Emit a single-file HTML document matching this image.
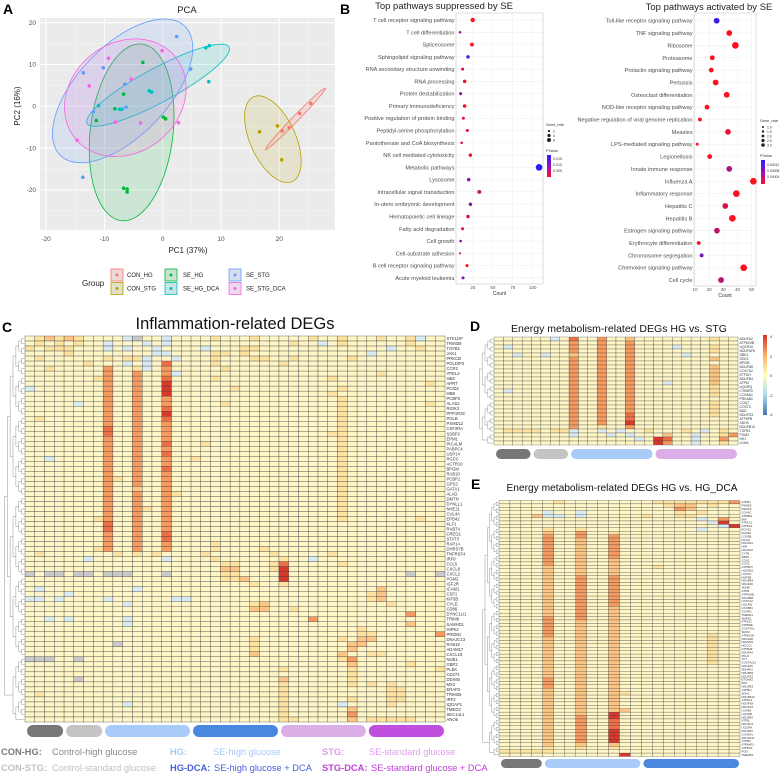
<!DOCTYPE html>
<html><head><meta charset="utf-8">
<style>
html,body{margin:0;padding:0;background:#fff;}
svg{display:block;font-family:"Liberation Sans",Arial,sans-serif;}
</style></head>
<body>
<svg id="fig" width="782" height="775" viewBox="0 0 782 775" xmlns="http://www.w3.org/2000/svg">
  <g>
    <text x="3" y="14" font-size="14" font-weight="bold">A</text>
    <text x="187" y="13" font-size="9.5" text-anchor="middle" fill="#222">PCA</text>
    <rect x="40" y="18" width="295" height="212" fill="#ebebeb"/>
    <g id="pcaGrid"></g>
    <g id="pcaEll"></g>
    <g id="pcaPts"></g>
    <g id="pcaTicks" font-size="6.5" fill="#4d4d4d"></g>
    <text x="188" y="253" font-size="8" text-anchor="middle" fill="#222">PC1 (37%)</text>
    <text x="20" y="106" font-size="8" text-anchor="middle" fill="#222" transform="rotate(-90 20 106)">PC2 (16%)</text>
    <g id="pcaLegend" font-size="6" fill="#222"></g>
  </g>
  <g>
    <text x="340" y="14" font-size="14" font-weight="bold">B</text>
    <text x="444" y="9" font-size="9.5" text-anchor="middle" fill="#222">Top pathways suppressed by SE</text>
    <text x="709" y="10" font-size="9.5" text-anchor="middle" fill="#222">Top pathways activated by SE</text>
    <g id="dotL"></g>
    <g id="dotR"></g>
    <defs>
      <linearGradient id="pg" x1="0" y1="0" x2="0" y2="1">
        <stop offset="0" stop-color="#2b1cff"/><stop offset="0.5" stop-color="#9a10c0"/><stop offset="1" stop-color="#ff1020"/>
      </linearGradient>
      <linearGradient id="hg" x1="0" y1="0" x2="0" y2="1">
        <stop offset="0" stop-color="#d73027"/><stop offset="0.25" stop-color="#fdae61"/><stop offset="0.5" stop-color="#ffffbf"/><stop offset="0.75" stop-color="#abd9e9"/><stop offset="1" stop-color="#4575b4"/>
      </linearGradient>
    </defs>
    <g font-size="3.6" fill="#333">
      <text x="546" y="126" font-size="3.8">Gene_rate</text>
      <circle cx="549" cy="131" r="1.1" fill="#222"/><text x="553" y="132.5">2</text>
      <circle cx="549" cy="135.5" r="1.6" fill="#222"/><text x="553" y="137">4</text>
      <circle cx="549" cy="140" r="2" fill="#222"/><text x="553" y="141.5">6</text>
      <text x="546" y="152" font-size="3.8">PValue</text>
      <rect x="547" y="155" width="4" height="22" fill="url(#pg)"/>
      <text x="553" y="160">0.015</text><text x="553" y="166">0.010</text><text x="553" y="172">0.005</text>
    </g>
    <g font-size="3.4" fill="#333">
      <text x="760" y="122" font-size="3.8">Gene_rate</text>
      <circle cx="763" cy="127" r="1" fill="#222"/><text x="767" y="128.5">1.0</text>
      <circle cx="763" cy="131.5" r="1.2" fill="#222"/><text x="767" y="133">1.5</text>
      <circle cx="763" cy="136" r="1.4" fill="#222"/><text x="767" y="137.5">2.0</text>
      <circle cx="763" cy="140.5" r="1.6" fill="#222"/><text x="767" y="142">2.5</text>
      <circle cx="763" cy="145" r="1.8" fill="#222"/><text x="767" y="146.5">3.0</text>
      <text x="760" y="157" font-size="3.8">PValue</text>
      <rect x="761" y="160" width="4" height="24" fill="url(#pg)"/>
      <text x="767" y="166">0.00012</text><text x="767" y="172">0.00008</text><text x="767" y="178">0.00004</text>
    </g>
  </g>
  <text x="2" y="332" font-size="14" font-weight="bold">C</text>
  <text x="235" y="329" font-size="16.5" text-anchor="middle" fill="#111">Inflammation-related DEGs</text>
  <text x="470" y="331" font-size="14" font-weight="bold">D</text>
  <text x="619" y="332" font-size="10.5" text-anchor="middle" fill="#111">Energy metabolism-related DEGs HG vs. STG</text>
  <text x="471" y="489" font-size="14" font-weight="bold">E</text>
  <text x="622" y="491" font-size="10.2" text-anchor="middle" fill="#111">Energy metabolism-related DEGs HG vs. HG_DCA</text>
  <g id="heatC"></g><g id="heatD"></g><g id="heatE"></g>
  <rect x="763" y="335" width="4" height="80" fill="url(#hg)"/>
  <g font-size="4" fill="#333">
    <text x="770" y="338">4</text><text x="770" y="358">2</text><text x="770" y="377">0</text><text x="769" y="397">-2</text><text x="769" y="416">-4</text>
  </g>
  <g font-size="9.3">
    <text x="1" y="755" fill="#7a7a7a" font-weight="bold">CON-HG:</text>
    <text x="52" y="755" fill="#8a8a8a">Control-high glucose</text>
    <text x="170" y="755" fill="#a9c8f5" font-weight="bold">HG:</text>
    <text x="213" y="755" fill="#a9c8f5">SE-high glucose</text>
    <text x="322" y="755" fill="#dd9ee8" font-weight="bold">STG:</text>
    <text x="369" y="755" fill="#dd9ee8">SE-standard glucose</text>
    <text x="1" y="771" fill="#c0c0c0" font-weight="bold">CON-STG:</text>
    <text x="52" y="771" fill="#c0c0c0">Control-standard glucose</text>
    <text x="170" y="771" fill="#4a5ee0" font-weight="bold">HG-DCA:</text>
    <text x="214" y="771" fill="#4a5ee0">SE-high glucose + DCA</text>
    <text x="322" y="771" fill="#c03fd8" font-weight="bold">STG-DCA:</text>
    <text x="371" y="771" fill="#c03fd8">SE-standard glucose + DCA</text>
  </g>
</svg>
<script>
const pcaGroups = ["CON_HG","CON_STG","SE_HG","SE_HG_DCA","SE_STG","SE_STG_DCA"];
const pcaColors = ["#F8766D","#B79F00","#00BA38","#00BFC4","#619CFF","#F564E3"];
const pc1_CON_HG = [25.4,23.5,21.7,20.5];
const pc2_CON_HG = [0.7,-1.7,-5.1,-5.9];
const pc1_CON_STG = [16.6,19.7,20.4];
const pc2_CON_STG = [-6.1,-4.7,-12.8];
const pc1_SE_HG = [-3.4,-6.7,-8.2,-11.4,0.1,0.5,-6.7,-6.1,-6.1];
const pc2_SE_HG = [10.5,2.9,-0.6,-3.4,-2.6,-3.0,-19.6,-19.8,-20.5];
const pc1_SE_HG_DCA = [7.4,8.0,7.9,-2.3,-1.9,-11.0,-7.4,-7.0];
const pc2_SE_HG_DCA = [14.0,14.5,5.9,3.7,3.4,0.2,-0.7,-0.7];
const pc1_SE_STG = [2.4,-10.2,-13.6,4.8,-6.5,-6.3,-11.9,-13.7];
const pc2_SE_STG = [16.7,9.2,8.0,8.9,5.3,-0.2,-1.3,-17.0];
const pc1_SE_STG_DCA = [-0.1,-9.3,-12.6,-5.4,-8.1,-3.8,2.7,-14.7];
const pc2_SE_STG_DCA = [13.3,11.5,4.9,6.5,-3.8,-4.0,-3.9,-8.1];
const pcaXTicks = [-20,-10,0,10,20];
const pcaYTicks = [20,10,0,-10,-20];

const supPathways = ["T cell receptor signaling pathway","T cell differentiation","Spliceosome","Sphingolipid signaling pathway","RNA secondary structure unwinding","RNA processing","Protein destabilization","Primary immunodeficiency","Positive regulation of protein binding","Peptidyl-serine phosphorylation","Pantothenate and CoA biosynthesis","NK cell mediated cytotoxicity","Metabolic pathways","Lysosome","Intracellular signal transduction","In-utero embryonic development","Hematopoietic cell lineage","Fatty acid degradation","Cell growth","Cell-substrate adhesion","B cell receptor signaling pathway","Acute myeloid leukemia"];
const supCount = [24.7,8.8,23.8,18.8,12.1,14.6,9.6,14.6,13,18,10.9,21.8,108,19.7,33,21.8,18.8,12,9.6,8.8,17.6,12.6];
const supRate = [4,2,3.5,3,2.5,3,2.5,3,2.5,2.5,2,3,6.5,3,3.5,3,3,2.5,2,1.5,2.5,2.5];
const supP = [0.004,0.010,0.004,0.014,0.006,0.005,0.011,0.005,0.005,0.006,0.006,0.005,0.016,0.011,0.007,0.011,0.006,0.006,0.012,0.007,0.005,0.012];
const supTicks = [25,50,75,100];
const actPathways = ["Toll-like receptor signaling pathway","TNF signaling pathway","Ribosome","Proteasome","Prolactin signaling pathway","Pertussis","Osteoclast differentiation","NOD-like receptor signaling pathway","Negative regulation of viral genome replication","Measles","LPS-mediated signaling pathway","Legionellosis","Innate immune response","Influenza A","Inflammatory response","Hepatitis C","Hepatitis B","Estrogen signaling pathway","Erythrocyte differentiation","Chromosome segregation","Chemokine signaling pathway","Cell cycle"];
const actCount = [25.3,34.2,38.5,22.2,21.5,24.6,32.4,18.5,13.5,33.3,11.6,20.4,34.2,51.2,39.2,31.4,36.4,25.5,12.6,14.7,44.4,28.4];
const actRate = [2.5,2.5,3,2,2,2.5,2.5,2,1.5,2.5,1,2,2.5,3,3,2.5,3,2.5,1.5,1.5,3,2.5];
const actP = [0.00013,0.00002,0.00002,0.00002,0.00002,0.00002,0.00002,0.00002,0.00002,0.00003,0.00002,0.00002,0.00007,0.00002,0.00002,0.00004,0.00002,0.00006,0.00002,0.0001,0.00002,0.00006];
const actTicks = [10,20,30,40,50];

const heatColors = {"b":"#d9ebf2","c":"#eef5e2","0":"#fef6c6","1":"#fee3a0","2":"#fdc584","3":"#f79a60","4":"#ee6f45","5":"#d8372b","g":"#c9c9c9"};
const groupFill = {"CON-HG":"#777777","CON-STG":"#c4c4c4","HG":"#a9cbfa","HG-DCA":"#4a88e0","STG":"#dcaee8","STG-DCA":"#c04fe0"};
const cGroups = ["CON-HG","CON-STG","HG","HG-DCA","STG","STG-DCA"];
const cGroupSizes = [4,4,9,9,9,8];
const cGenes = ["STK11IP","TRIM38","TGFB1","JAK1","PRKCB","POLDIP2","CCR2","YPEL3","HBZ","APRT","PCID2","HBB","PCBP2","ALAS2","RIOK3","PPP1R3C","POLB","PSMD12","CSF2RA","SSBP2","EPM1","PICALM","PABPC4","USP14","RGCC","ACTR10","BPGM","RAB10","PCBP1","GPS2","GATA1","ALAD","DMTN","DYNLL1","NHEJ1","CUL4A","EPB42","KLF1","RAB7A","CREG1","STAT3","RAP1A","DHRS7B","TNFRSF4","IRF8","CCL5","CXCL8","CXCL2","PGM2","IGF2R","ICAM1","CSF1","KIF5B","CYLD","CD86","DYNC1LI1","TRIM8","SAMHD1","HIPK2","PRDM1","DNAJC13","RAB18","ADAM17","CXCL16","NUB1","GBP2","PLEK","CD274","DDX60","MX2","ERAP2","TRIM25","IRF2","IQGAP1","TMED3","SEC14L1","ANO6"];
const cRows = [
"0121 2100 00bg00b00 001000100 000100100 01001b00",
"0101 0100 b000b0b00 000000000 0100b0100 00001000",
"1011 1000 b0b00b000 0b0001100 000000000 00b00100",
"0000 1000 00000bb00 001101000 000000000 b0000000",
"0100 0000 1011b00b0 001000110 010000010 00000000",
"0000 0010 00b0b0400 001000000 100000000 00000000",
"0010 0000 3001b0300 000100000 000000000 00000000",
"0000 0000 3003003b0 000000000 000000000 01000000",
"0000 0001 300300400 001000000 000001000 00000000",
"0000 0000 300300500 000000000 000000000 00000010",
"b000 0000 300300500 000010000 000000100 00000000",
"0000 0000 300300500 000000000 000001000 00000000",
"0000 0000 300300300 000000000 000000100 00000000",
"0000 0b00 300300300 000100000 000000100 00000010",
"0000 0000 300300400 000000000 000000100 00000000",
"0000 0000 300300500 000000000 000000100 00000000",
"0100 0000 300300400 000000000 000000100 00000000",
"0000 0000 300300300 000000000 000000100 00000000",
"0000 0000 400300300 000000000 000000100 00000000",
"0000 0000 400300300 000000000 000001100 00000000",
"0000 0000 300300300 000000000 000000100 00000000",
"0000 0000 300300400 010000000 000000100 00000000",
"0000 0000 300300300 000000000 000000100 00000000",
"0000 0000 300300400 000000000 000000100 00000000",
"00b0 0000 300300300 100000000 000000100 00000000",
"0000 0000 300300300 000000000 000000100 00000000",
"0000 0000 300300400 000000000 000000100 00000000",
"0000 0000 300300300 000000000 000000100 00000000",
"0000 0000 310300300 000000000 000000100 00000000",
"0000 0000 300300300 000000000 000000100 00000000",
"0000 0000 300200300 000000000 000000100 00000000",
"0000 0000 300300310 000000000 000000100 00000000",
"0000 0000 300300300 000000000 000000100 00000000",
"0000 0000 300300300 000000000 000000100 00000000",
"0000 0000 300310300 000000000 000000100 00000000",
"0000 0000 300300300 000000000 000000100 00000000",
"0000 0001 300300300 000000000 000000100 00000100",
"0000 0000 400300300 000000000 000000000 00000000",
"0000 0000 400300300 000000000 000000000 00000000",
"0000 0000 300300400 000000000 000000000 00000000",
"0000 0000 300300400 000000000 000000000 00000000",
"0000 0000 300300300 001000000 000000000 00000000",
"0000 0001 300300300 001000010 000000000 00000000",
"0100 0000 010101000 010000001 000001000 00000000",
"0000 00b0 000000b00 001000000 100b00000 00000000",
"0000 0000 000000000 000110001 400000100 00000000",
"0000 0000 000000000 000220001 500000000 00000000",
"g0gg 0gg0 ggg000g00 000110000 500000000 0000g00g",
"0000 0000 000000000 000112000 500000000 00000000",
"0000 0000 000000000 000000100 100000000 00000000",
"0b00 0000 000b00000 000000000 000000000 02000000",
"0000 b000 000000000 000000000 000000000 12000000",
"bb0b 0000 b000000bb 000000000 000000000 12000000",
"0000 0000 00b000000 000000120 000000000 00100000",
"0000 0000 000000000 000000220 010000000 00000000",
"0000 0000 000000000 000000000 000000000 00003000",
"00b0 b000 00b000000 000000000 000300000 00000000",
"0000 0000 00b000000 000000000 000000000 00002000",
"0000 0000 000000000 000000000 000000001 00000000",
"0000 0000 000000000 000000000 000000001 10000003",
"0000 0000 000000000 000000100 000000102 20000000",
"0000 0000 0g0000000 000000100 000000022 00000000",
"0000 0000 000000000 000000100 000000020 00000000",
"0000 0000 000000000 000000200 000000200 11000000",
"ggg0 0g00 000000000 000000000 000000130 00000000",
"0000 0000 000000000 000000000 000000020 00001000",
"0000 0000 000000000 000000000 100000010 00000001",
"0000 0000 000000000 000000000 000000010 00000000",
"0000 0g00 000000000 000000000 200000010 00000000",
"0000 0000 000000000 000000000 100000010 10100000",
"0000 0000 000000000 000000000 100000000 00110000",
"0100 0000 000000000 000000000 100000000 00110000",
"0000 0000 000000000 000000000 100000010 00110000",
"0000 0000 00b000000 000000000 100000b00 00100000",
"0000 0000 000000000 000000000 100000020 00000000",
"0000 0000 000000000 000000000 100000030 00000000",
"0000 0000 000000000 000000000 110000020 11111000"
];
const dGroups = ["CON-HG","CON-STG","HG","STG"];
const dGroupSizes = [4,4,9,9];
const dGenes = ["NDUFA2","ATP6V0B","UQCR10","NDUFAF6","GBE1","SOD1","BPGM","NDUFA8","COX7A2","ETFDH","NDUFB4","ATP5I","UQCRQ","CYB5R3","COX6A1","PRKAB1","COQ7","COX7C","BAD","NDUFS3","ATP6PB","SDHC","NDUFB10","TGFB1","PGM2","HK1","LDHA"];
const dRows = [
"0000 00b0 400300200 000000100",
"0000 0000 300300300 000000000",
"0b00 0000 300300300 00b000100",
"0000 0000 300300300 000000100",
"00b0 0b00 200300300 000b00000",
"0000 0000 300300300 000000200",
"0000 0000 300300300 000000000",
"0000 0000 300300300 000000200",
"0000 0000 300300300 000000200",
"0000 0000 300300300 000000200",
"0000 0000 300300300 000000200",
"0000 0000 300300300 0b0000200",
"0000 0000 300300300 000000100",
"0b00 0000 300300300 000000100",
"0000 0000 300300300 000000100",
"0000 0000 300300300 000000000",
"0000 0000 300300300 000000100",
"0000 0000 300300300 000000100",
"0000 0000 300300300 000000100",
"0000 0000 300300400 000000100",
"0000 0000 300300400 000000000",
"0000 0000 300300500 000000000",
"0000 0000 300100300 000000000",
"0111 1011 b00b0b001 00010b010",
"0000 0000 b000b0b00 0200b0013",
"0000 0000 0000000b0 5400b0030",
"0000 0000 000000000 5300b0010"
];
const eGroups = ["CON-HG","HG","HG-DCA"];
const eGroupSizes = [4,9,9];
const eGenes = ["ATP5H","PSMD2","PSMA5","COX6C","ATP5B2","MIF","ATP1A1","ATP5G2","ECHS1","DHX30","COX5B","DGSH","NDUFA3","ND4","NDUFA2","CYTB","MBP1","COX2","COX3","ATP5PO","UQCR10","COX7C","KMT5B","NDUFB4","NDUFA6","SDHB","ATP5I","ATP6V0B","NDUFB8","COX7A2","UQCRQ","COX6B1","COX4I1","TMEM11","SMPD1","ATP5J2","ATP5ME","COX7A2L","SMOX","ATP6V1D","NDUFA8","NDUFS5","MCCC1","ATP5MF","NDUFA4","PKLR","TKT","COX7A2L2","NDUFA5","SDHAF2","NDUFB9","NDUFS2","ETOM32","BAX","NDUFB3","ATP5F1","SDHC","NDUFB10","ATP5C1","NDUFS8","NDUFV2","COX8A","UQCRB","NDUFB2","ATP5L","NDUFC2","UQCRH","NDUFB7","COX6A1","NDUFA11","ATP5D","ATP6AP1","ATP5G3","PGD","TMEM52"];
const eRows = [
"0000 010000000 011111113",
"0000 000000000 001220100",
"0000 000000000 000320000",
"0000 b00b00000 000101000",
"0002 bb0b00000 100110000",
"0000 000000000 00000b030",
"0000 000000000 000000b50",
"0000 000000000 0000000b5",
"0000 100100000 00000b000",
"0000 200300100 000000000",
"0000 300300300 000000000",
"0000 300200300 000000000",
"0000 300200300 000000000",
"0000 300200300 000000000",
"0000 300200300 000000000",
"0000 300200300 000000000",
"0000 300200300 000000000",
"0000 300200200 000000000",
"0000 300200200 000000000",
"0000 200200200 010000000",
"0000 200200200 000000000",
"0000 200200200 000000000",
"0000 200300300 000000000",
"0000 200300300 000000000",
"0000 200300300 000000000",
"0000 200300300 000000000",
"0000 200300300 000000000",
"0000 200300300 000000000",
"0000 200300300 000000000",
"0000 200300300 000000000",
"0000 200300300 000000000",
"0000 200300200 000000000",
"0000 200300200 000000000",
"0000 200300200 000000000",
"0000 300300200 000000000",
"0000 300200200 000000000",
"0000 300200200 000000000",
"0000 300200200 000000000",
"0000 300200200 000000000",
"0000 300200200 000000100",
"0000 200200200 000000100",
"0000 200200200 000000100",
"0000 200200200 000000100",
"0000 200200200 000000100",
"0000 200200200 000000100",
"0000 200200200 000000100",
"0000 200200200 000000100",
"0000 200200200 000000100",
"0000 200200200 000000000",
"0000 200200200 000000000",
"0000 200200200 000000000",
"0000 200200200 000000000",
"0000 300200200 000000000",
"0000 300200200 000000000",
"0000 300200200 000000000",
"0000 200200200 000000000",
"0000 200200210 000000000",
"0000 200200200 000000000",
"0000 200200200 000000000",
"0000 200200200 000000000",
"0000 200200200 000000000",
"0000 200200220 000000000",
"0000 200200500 000000000",
"0000 200300500 000000000",
"0000 200300400 000000000",
"0000 200300400 000000000",
"0000 200300400 000000000",
"0000 200300500 000000000",
"0000 200300500 000000000",
"0000 200300500 000000000",
"0000 200300500 000000000",
"0000 200200200 000000000",
"0000 100100100 000000000",
"1111 100000000 000000000",
"0000 000000050 000000000"
];

const NS = "http://www.w3.org/2000/svg";
function mk(tag, attrs, parent){
  const e = document.createElementNS(NS, tag);
  for (const k in attrs) e.setAttribute(k, attrs[k]);
  parent.appendChild(e);
  return e;
}
const $ = id => document.getElementById(id);

const xA = v => 162.7 + 5.83 * v;
const yA = v => 106.3 - 4.18 * v;
(function(){
  const g = $("pcaGrid");
  [-15,-5,5,15,25].forEach(v=>{ const l=mk("line",{x1:xA(v),x2:xA(v),y1:18,y2:230,stroke:"#f7f7f7","stroke-width":0.5},g);
    
     });
  [15,5,-5,-15,-25].forEach(v=>{ const l=mk("line",{x1:40,x2:335,y1:yA(v),y2:yA(v),stroke:"#f7f7f7","stroke-width":0.5},g);
    
     });
  pcaXTicks.forEach(v=>{ const l=mk("line",{x1:xA(v),x2:xA(v),y1:18,y2:230,stroke:"#fff","stroke-width":1},g);
    
    
    const t=mk("text",{x:xA(v),y:241,"text-anchor":"middle"},$("pcaTicks")); t.textContent=v;
    
     });
  pcaYTicks.forEach(v=>{ const l=mk("line",{x1:40,x2:335,y1:yA(v),y2:yA(v),stroke:"#fff","stroke-width":1},g);
    
    
    const t=mk("text",{x:36,y:yA(v)+2.2,"text-anchor":"end"},$("pcaTicks")); t.textContent=v;
    
     });
  const xs = [pc1_CON_HG,pc1_CON_STG,pc1_SE_HG,pc1_SE_HG_DCA,pc1_SE_STG,pc1_SE_STG_DCA];
  const ys = [pc2_CON_HG,pc2_CON_STG,pc2_SE_HG,pc2_SE_HG_DCA,pc2_SE_STG,pc2_SE_STG_DCA];
  const ellScale = [2.4,2.4,1.9,1.6,1.7,1.75];
  pcaGroups.forEach((name,gi)=>{
    const X=xs[gi], Y=ys[gi], n=X.length;
    const mx=X.reduce((a,b)=>a+b,0)/n, my=Y.reduce((a,b)=>a+b,0)/n;
    let sxx=0,syy=0,sxy=0;
    for(let i=0;i<n;i++){sxx+=(X[i]-mx)**2;syy+=(Y[i]-my)**2;sxy+=(X[i]-mx)*(Y[i]-my);}
    sxx/=(n-1);syy/=(n-1);sxy/=(n-1);
    const a=Math.sqrt(sxx), b=sxy/a, c=Math.sqrt(Math.max(syy-b*b,1e-6));
    const k = ellScale[gi];
    let d="";
    for(let t=0;t<=72;t++){const th=t/72*2*Math.PI, u=Math.cos(th)*k, w=Math.sin(th)*k;
      const px=mx+a*u, py=my+b*u+c*w; d+=(t?"L":"M")+xA(px).toFixed(2)+" "+yA(py).toFixed(2);}
    const e=mk("path",{d:d+"Z",fill:pcaColors[gi],"fill-opacity":0.13,stroke:pcaColors[gi],"stroke-width":0.8},$("pcaEll"));
    
    
    for(let i=0;i<n;i++){
      const p=mk("circle",{cx:xA(X[i]),cy:yA(Y[i]),r:1.8,fill:pcaColors[gi]},$("pcaPts"));
      
      
    }
  });
  const lg=$("pcaLegend");
  const gt=mk("text",{x:82,y:286,"font-size":8},lg); gt.textContent="Group";
  
  
  const colX=[111,165,229], labX=[127,183,246];
  pcaGroups.forEach((name,gi)=>{
    const col=Math.floor(gi/2), row=gi%2, y=269+row*13.5;
    const r=mk("rect",{x:colX[col],y:y,width:12,height:12,fill:"#ebebeb",stroke:pcaColors[gi],"stroke-width":0.8},lg);
    
    
    const r2=mk("rect",{x:colX[col],y:y,width:12,height:12,fill:pcaColors[gi],"fill-opacity":0.15},lg);
    
    
    const c=mk("circle",{cx:colX[col]+6,cy:y+6,r:1.5,fill:pcaColors[gi]},lg);
    
    
    const t=mk("text",{x:labX[col],y:y+8},lg); t.textContent=name;
    
    
  });
})();

function pColor(p,lo,hi){
  const f=Math.max(0,Math.min(1,(p-lo)/(hi-lo)));
  const r=Math.round(255*(1-f)+43*f), g=Math.round(16*(1-f)+28*f), b=Math.round(32*(1-f)+255*f);
  return "rgb("+r+","+g+","+b+")";
}
function dotPlot(gid, names, counts, rates, ps, ticks, cfg){
  const g=$(gid);
  const xs=c=>cfg.x0+cfg.k*c, ys=i=>cfg.y0+cfg.dy*i;
  const bg=mk("rect",{x:cfg.left,y:cfg.top,width:cfg.right-cfg.left,height:cfg.bottom-cfg.top,fill:"#fff",stroke:"#c8c8c8","stroke-width":0.6},g);
  
  
  ticks.forEach(v=>{
    const l=mk("line",{x1:xs(v),x2:xs(v),y1:cfg.top,y2:cfg.bottom,stroke:"#ececec","stroke-width":0.5},g);
    
    
    const t=mk("text",{x:xs(v),y:cfg.bottom+5,"font-size":4.5,"text-anchor":"middle",fill:"#555"},g); t.textContent=v;
    
    
  });
  const ct=mk("text",{x:(cfg.left+cfg.right)/2,y:cfg.bottom+11,"font-size":5,"text-anchor":"middle",fill:"#333"},g); ct.textContent="Count";
  
  
  names.forEach((n,i)=>{
    const l=mk("line",{x1:cfg.left,x2:cfg.right,y1:ys(i),y2:ys(i),stroke:"#ececec","stroke-width":0.5},g);
    
    
    const t=mk("text",{x:cfg.left-1.5,y:ys(i)+2,"font-size":5.6,"text-anchor":"end",fill:"#4d4d4d"},g); t.textContent=n;
    
    
  });
  names.forEach((n,i)=>{
    const c=mk("circle",{cx:xs(counts[i]),cy:ys(i),r:cfg.r0+cfg.rk*rates[i],fill:pColor(ps[i],cfg.plo,cfg.phi)},g);
    
    
  });
}
dotPlot("dotL",supPathways,supCount,supRate,supP,supTicks,{name:"suppressed",x0:453,k:0.797,y0:20,dy:12.28,left:456,right:543,top:13,bottom:284,r0:0.4,rk:0.45,plo:0.004,phi:0.016});
dotPlot("dotR",actPathways,actCount,actRate,actP,actTicks,{name:"activated",x0:680.8,k:1.417,y0:20.7,dy:12.35,left:694,right:756,top:13,bottom:286,r0:0.5,rk:0.95,plo:0.00002,phi:0.00014});

function dendro(g, x0, y0, rh, nrows, width){
  let nodes=[]; for(let i=0;i<nrows;i++) nodes.push({y:y0+rh*(i+0.5),x:x0});
  let level=0; const levels=Math.ceil(Math.log2(nrows))+1; const step=width/levels;
  let d="";
  while(nodes.length>1){
    level++; const nx=x0-step*level; const nn=[];
    for(let i=0;i<nodes.length;i+=2){
      if(i+1<nodes.length){const a=nodes[i],b=nodes[i+1];
        d+="M"+a.x+" "+a.y+"H"+nx+"V"+b.y+"H"+b.x;
        nn.push({x:nx,y:(a.y+b.y)/2});}
      else nn.push(nodes[i]);
    }
    nodes=nn;
  }
  const p=mk("path",{d:d,fill:"none",stroke:"#888","stroke-width":0.45},g);
  
  
}
function heat(gid, rows, genes, groups, sizes, cfg){
  const g=$(gid);
  const ncol=sizes.reduce((a,b)=>a+b,0);
  const cw=cfg.w/ncol, rh=cfg.h/rows.length;
  dendro(g, cfg.x0-0.5, cfg.y0, rh, rows.length, cfg.x0-cfg.dl);
  rows.forEach((s,ri)=>{
    const str=s.replace(/ /g,"");
    for(let ci=0;ci<ncol;ci++){
      const ch=str[ci]||"0";
      const r=mk("rect",{x:(cfg.x0+ci*cw).toFixed(2),y:(cfg.y0+ri*rh).toFixed(2),width:cw.toFixed(2),height:rh.toFixed(2),fill:heatColors[ch]||heatColors["0"],stroke:"#3c3c3c","stroke-width":cfg.sw},g);
      
      
    }
    const t=mk("text",{x:cfg.x0+cfg.w+1.5,y:cfg.y0+ri*rh+rh*0.8,"font-size":cfg.fs,fill:"#333"},g); t.textContent=genes[ri]||"";
    
    
  });
  let start=0;
  groups.forEach((gn,i)=>{
    const x=cfg.x0+start*cw+2, w=sizes[i]*cw-3;
    const b=mk("rect",{x:x,y:cfg.by,width:w,height:cfg.bh,rx:cfg.bh/2,fill:groupFill[gn]},g);
    
    
    start+=sizes[i];
  });
}
heat("heatC",cRows,cGenes,cGroups,cGroupSizes,{name:"inflammation",x0:25,y0:336,w:420,h:386,fs:4.2,sw:0.35,by:725,bh:12,dl:2});
heat("heatD",dRows,dGenes,dGroups,dGroupSizes,{name:"energy-stg",x0:494,y0:337,w:244,h:108,fs:3.4,sw:0.3,by:449,bh:10,dl:477});
heat("heatE",eRows,eGenes,eGroups,eGroupSizes,{name:"energy-dca",x0:499,y0:500.5,w:241,h:256,fs:2.9,sw:0.3,by:759,bh:9,dl:481});
</script>
</body></html>
